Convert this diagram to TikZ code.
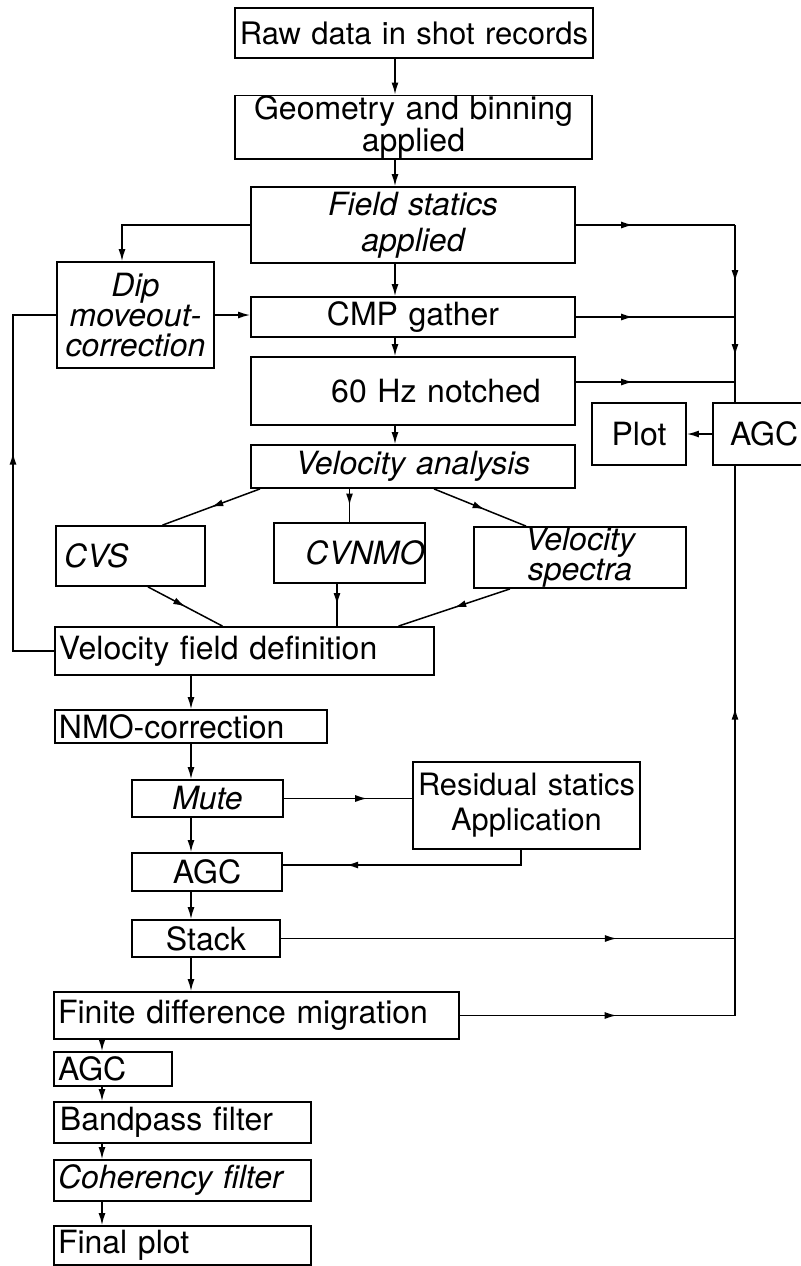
\documentclass[tikz,border=0pt]{standalone}
\usepackage{fontspec}
\setmainfont{TeX Gyre Heros}
\usepackage{tikz}
\usetikzlibrary{arrows.meta,decorations.markings}

\begin{document}
\begin{tikzpicture}[x=0.5pt, y=-0.5pt, >={Latex[length=6pt,width=3.5pt]}]

        \useasboundingbox (0,0) rectangle (801,1266);
        \fill[white] (0,0) rectangle (801,1266);
        \tikzset{
            box/.style={draw, line width=0.9pt, inner xsep=2pt, inner ysep=0pt, font=\fontsize{16}{18}\selectfont},
            ibox/.style={box, font=\fontsize{16}{18}\selectfont\itshape},
            arrow/.style={->, line width=0.75pt},
            line/.style={line width=0.75pt},
            midarrow/.style={line width=0.75pt, postaction={decorate}, decoration={markings, mark=at position #1 with {\arrow{>}}}}
        }

        \coordinate (colx) at (395,0);
        \coordinate (dipx) at (122,0);
        \coordinate (cvx) at (337,0);
        \coordinate (fbx) at (13,0);
        \coordinate (colL) at (191,0);
        \coordinate (colB) at (102,0);
        \coordinate (busx) at (735,0);


        \node[box, text width=177pt, inner xsep=1pt, minimum height=25pt, align=center, font=\fontsize{15.5}{18}\selectfont] (raw) at (414,33) {Raw data in shot records};
        \node[box, text width=174.5pt, minimum height=30pt, align=center, font=\fontsize{16}{13.5}\selectfont] (geom) at (413.5,127) {Geometry and binning\\applied};
        \node[ibox, text width=158pt, minimum height=38pt, align=center] (fstat) at (413,225) {Field statics\\applied};
        \node[ibox, text width=74.5pt, minimum height=53pt, align=center, font=\fontsize{16}{15}\selectfont\itshape] (dmo) at (135.5,315) {Dip\\moveout-\\correction};
        \node[box, text width=158pt, minimum height=20pt, align=center] (cmp) at (413,317) {CMP gather};
        \node[box, text width=158pt, minimum height=34pt, align=center] (notch) at (413,391) {\hspace*{23pt}60 Hz notched};
        \node[ibox, text width=158pt, minimum height=21.5pt, align=center] (velan) at (413,466.5) {Velocity analysis};


        \node[box, text width=64.5pt, minimum height=31pt, align=left] (agcR) at (781.5,434) {\hspace*{6.5pt}AGC};
        \node[box, text width=43pt, minimum height=31pt, align=center] (plot) at (639,434) {Plot};


        \node[ibox, text width=70.5pt, minimum height=30pt, align=left] (cvs) at (130.5,556) {\hspace*{2pt}CVS};
        \node[ibox, text width=75pt, minimum height=30pt, align=right, inner xsep=0.25pt] (cvnmo) at (349.5,553) {CVNMO};
        \node[ibox, text width=102pt, minimum height=30.5pt, align=center, font=\fontsize{16}{13.5}\selectfont\itshape] (vspec) at (580,557.5) {Velocity\\spectra};
        \node[box, text width=185.5pt, minimum height=24pt, align=left] (vfield) at (244.5,651) {Velocity field definition};


        \node[box, text width=132pt, minimum height=16.5pt, align=left] (nmo) at (191,726.5) {NMO-correction};
        \node[ibox, text width=71.5pt, minimum height=18.5pt, align=center] (mute) at (207.5,798.5) {Mute};
        \node[box, text width=111.5pt, inner xsep=1pt, minimum height=43.5pt, align=center, font=\fontsize{15.4}{17.5}\selectfont] (resid) at (526.5,805.5) {Residual statics\\Application};
        \node[box, text width=71pt, minimum height=19pt, align=center] (agcA) at (207,872) {AGC};
        \node[box, text width=70pt, minimum height=18.5pt, align=center] (stack) at (206,938.5) {Stack};


        \node[box, text width=198.5pt, minimum height=23.5pt, align=left] (fdm) at (256.5,1015.5) {Finite difference migration};
        \node[box, text width=55pt, minimum height=17pt, align=left] (agcB) at (113,1069) {AGC};
        \node[box, text width=124.5pt, minimum height=20.5pt, align=left] (bpass) at (182.5,1122.5) {\hspace*{1pt}Bandpass filter};
        \node[ibox, text width=124.5pt, minimum height=20.5pt, align=left] (coher) at (182.5,1180.5) {Coherency filter};
        \node[box, text width=124.5pt, minimum height=19.5pt, align=left] (final) at (182.5,1245.5) {Final plot};

        \coordinate (n1) at ([yshift=4.5pt]notch.east);


        \draw[arrow] (colx |- raw.south) -- (colx |- geom.north);
        \draw[arrow] (colx |- geom.south) -- (colx |- fstat.north);
        \draw[arrow] (colx |- fstat.south) -- (colx |- cmp.north);
        \draw[arrow] (colx |- cmp.south) -- (colx |- notch.north);
        \draw[arrow] (colx |- notch.south) -- (colx |- velan.north);


        \draw[arrow] (fstat.west) -| (dipx |- dmo.north);
        \draw[arrow] (dmo.east) -- (dmo.east -| cmp.west);
        \draw[midarrow=0.57] (vfield.west) -| (fbx |- dmo.west) -- (dmo.west);


        \draw[midarrow=0.5] ([xshift=-76.5pt]velan.south) -- ([xshift=16pt]cvs.north);
        \draw[midarrow=0.5] (cvnmo.north |- velan.south) -- (cvnmo.north);
        \draw[midarrow=0.55] ([xshift=10.5pt]velan.south) -- ([xshift=-27pt]vspec.north);
        \draw[midarrow=0.5] ([xshift=8.75pt]cvs.south) -- ([xshift=-11pt]vfield.north);
        \draw[midarrow=0.5] (cvx |- cvnmo.south) -- (cvx |- vfield.north);
        \draw[midarrow=0.5] ([xshift=-35pt]vspec.south) -- ([xshift=77pt]vfield.north);


        \draw[arrow] (colL |- vfield.south) -- (colL |- nmo.north);
        \draw[arrow] (colL |- nmo.south) -- (colL |- mute.north);
        \draw[arrow] (colL |- mute.south) -- (colL |- agcA.north);
        \draw[arrow] (colL |- agcA.south) -- (colL |- stack.north);
        \draw[arrow] (colL |- stack.south) -- (colL |- fdm.north);
        \draw[midarrow=0.65] (mute.east) -- (mute.east -| resid.west);
        \draw[midarrow=0.75] ([xshift=-2.75pt]resid.south) |- ([yshift=3.5pt]agcA.east);


        \draw[midarrow=0.36] (fstat.east) -- (busx |- fstat.east);
        \draw[midarrow=0.36] (cmp.east) -- (busx |- cmp.east);
        \draw[midarrow=0.36] (n1) -- (busx |- n1);
        \draw[midarrow=0.62] (busx |- fstat.east) -- (busx |- cmp.east);
        \draw[midarrow=0.6] (busx |- cmp.east) -- (busx |- n1);
        \draw[line] (busx |- n1) -- (busx |- agcR.north);
        \draw[arrow] (agcR.west) -- (plot.east);
        \draw[midarrow=0.74] (stack.east) -- (busx |- stack.east);
        \draw[midarrow=0.57] (fdm.east) -- (busx |- fdm.east);
        \draw[midarrow=0.56] (busx |- fdm.east) -- (busx |- agcR.south);


        \draw[arrow] (colB |- fdm.south) -- (colB |- agcB.north);
        \draw[arrow] (colB |- agcB.south) -- (colB |- bpass.north);
        \draw[arrow] (colB |- bpass.south) -- (colB |- coher.north);
        \draw[arrow] (colB |- coher.south) -- (colB |- final.north);

    \end{tikzpicture}
\end{document}
